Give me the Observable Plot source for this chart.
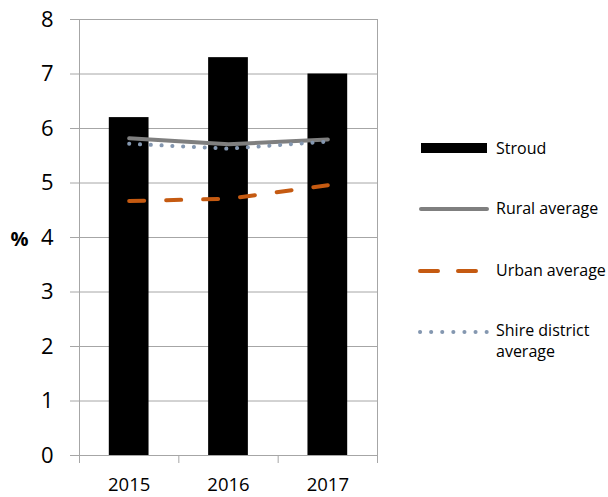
<!DOCTYPE html>
<html>
<head>
<meta charset="utf-8">
<script src="https://cdn.jsdelivr.net/npm/d3@7"></script>
<script src="https://cdn.jsdelivr.net/npm/@observablehq/plot@0.6"></script>
<style>
  html, body { margin: 0; padding: 0; background: white; }
  #wrap { position: relative; width: 608px; height: 497px; font-family: "Open Sans", sans-serif; }
  #legend { position: absolute; left: 0; top: 0; pointer-events: none; }
</style>
</head>
<body>
<div id="wrap"></div>
<script>
const years = [2015, 2016, 2017];
const stroud = [6.2, 7.3, 7.0];
const rural = [5.82, 5.71, 5.8];
const urban = [4.67, 4.71, 4.96];
const shire = [5.72, 5.63, 5.76];
const yTicks = [0, 1, 2, 3, 4, 5, 6, 7, 8];
const bandEdges = [2014.5, 2015.5, 2016.5, 2017.5];
const seriesNames = ["Stroud", "Rural average", "Urban average", "Shire district average"];

const table = years.map((year, i) => ({year, stroud: stroud[i], rural: rural[i], urban: urban[i], shire: shire[i]}));

const gray = "#a6a6a6";
const font = "'Open Sans', sans-serif";
const halfBar = 0.2;

const chart = Plot.plot({
  width: 608,
  height: 497,
  marginLeft: 79,
  marginRight: 231,
  marginTop: 19,
  marginBottom: 42,
  style: {fontFamily: font, background: "white", color: "black", overflow: "visible"},
  x: {type: "linear", domain: [2014.5, 2017.5], axis: null},
  y: {domain: [0, 8], axis: null},
  marks: [
    Plot.gridY(yTicks, {stroke: gray, strokeOpacity: 1, strokeWidth: 1}),
    Plot.ruleX([bandEdges[0], bandEdges[bandEdges.length - 1]], {stroke: gray, strokeWidth: 1}),
    Plot.axisY({ticks: yTicks, tickSize: 9, tickPadding: 17, fontSize: 22, stroke: gray, fill: "black", label: null, tickFormat: d => String(d)}),
    Plot.axisX({ticks: bandEdges, tickSize: 8, stroke: gray, label: null, tickFormat: () => ""}),
    Plot.axisX({ticks: years, tickSize: 0, tickPadding: 22, fontSize: 18.5, fill: "black", label: null, tickFormat: d => String(d)}),
    Plot.rectY(table, {x1: d => d.year - halfBar, x2: d => d.year + halfBar, y1: 0, y2: "stroud", fill: "black"}),
    Plot.line(table, {x: "year", y: "rural", stroke: "#7f7f7f", strokeWidth: 4, strokeLinecap: "round"}),
    Plot.line(table, {x: "year", y: "urban", stroke: "#c55a11", strokeWidth: 4, strokeLinecap: "round", strokeDasharray: "15 22"}),
    Plot.line(table, {x: "year", y: "shire", stroke: "#8497b0", strokeWidth: 4, strokeLinecap: "round", strokeDasharray: "0.1 10.7"}),
    Plot.text(["%"], {frameAnchor: "left", textAnchor: "middle", dx: -60, dy: 2, fontSize: 20, fontWeight: "bold", fill: "black"})
  ]
});

const wrap = document.getElementById("wrap");
wrap.appendChild(chart);

// Legend
const leg = d3.select(wrap).append("svg").attr("id", "legend").attr("width", 608).attr("height", 497)
  .style("font-family", font).style("font-size", "16px");
const lx = 421, lx2 = 487, tx = 496;
leg.append("rect").attr("x", lx).attr("y", 143).attr("width", lx2 - lx).attr("height", 10).attr("fill", "black");
leg.append("text").attr("x", tx).attr("y", 148).attr("dy", "0.35em").text(seriesNames[0]);
leg.append("line").attr("x1", lx).attr("x2", lx2).attr("y1", 209).attr("y2", 209)
  .attr("stroke", "#7f7f7f").attr("stroke-width", 4).attr("stroke-linecap", "round");
leg.append("text").attr("x", tx).attr("y", 208).attr("dy", "0.35em").text(seriesNames[1]);
leg.append("line").attr("x1", 420).attr("x2", 476).attr("y1", 271).attr("y2", 271)
  .attr("stroke", "#c55a11").attr("stroke-width", 4).attr("stroke-linecap", "round").attr("stroke-dasharray", "18 20");
leg.append("text").attr("x", tx).attr("y", 270).attr("dy", "0.35em").text(seriesNames[2]);
leg.append("line").attr("x1", 420).attr("x2", 487).attr("y1", 332).attr("y2", 332)
  .attr("stroke", "#8497b0").attr("stroke-width", 4).attr("stroke-linecap", "round").attr("stroke-dasharray", "0.1 11");
const st = leg.append("text").attr("x", tx).attr("y", 330).attr("dy", "0.35em");
st.append("tspan").attr("x", tx).text("Shire district");
st.append("tspan").attr("x", tx).attr("dy", "1.35em").text("average");
</script>
</body>
</html>
